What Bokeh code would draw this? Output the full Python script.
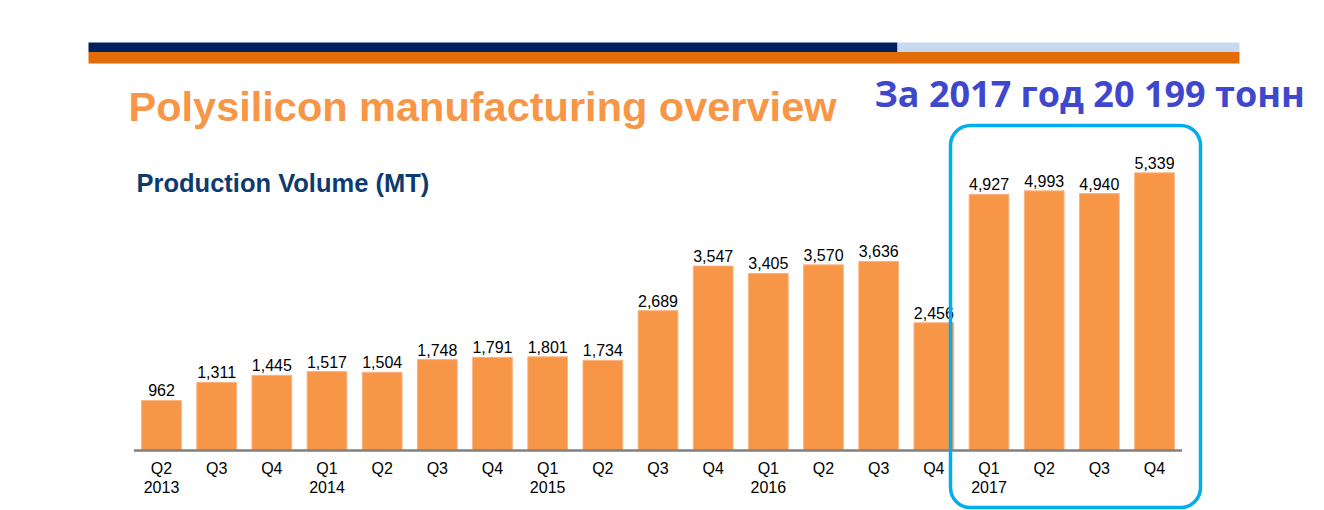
from bokeh.plotting import figure
from bokeh.models import ColumnDataSource, Range1d, FactorRange, Label, BoxAnnotation
from bokeh.core.properties import value
from bokeh.embed import file_html
from bokeh.resources import INLINE

# ---- data ----
quarters = ["Q2", "Q3", "Q4", "Q1", "Q2", "Q3", "Q4", "Q1", "Q2", "Q3",
            "Q4", "Q1", "Q2", "Q3", "Q4", "Q1", "Q2", "Q3", "Q4"]
years = ["2013", "2013", "2013", "2014", "2014", "2014", "2014", "2015", "2015", "2015",
         "2015", "2016", "2016", "2016", "2016", "2017", "2017", "2017", "2017"]
volumes = [962, 1311, 1445, 1517, 1504, 1748, 1791, 1801, 1734, 2689,
           3547, 3405, 3570, 3636, 2456, 4927, 4993, 4940, 5339]
title_text = "Polysilicon manufacturing overview"
subtitle_text = "Production Volume (MT)"
note_text = "За 2017 год 20 199 тонн"

periods = [f"{q} {y}" for q, y in zip(quarters, years)]
tick_text = []
for i, (q, y) in enumerate(zip(quarters, years)):
    first_of_year = (i == 0) or (q == "Q1")
    tick_text.append(f"{q}\n{y}" if first_of_year else q)

src = ColumnDataSource(dict(period=periods, vol=volumes, zero=[0] * len(volumes),
                            lbl=[f"{v:,}" for v in volumes], tick=tick_text))

FONT = "Liberation Sans"

p = figure(width=1324, height=510,
           x_range=FactorRange(*periods, range_padding=2.418, range_padding_units="absolute"),
           y_range=Range1d(-1154, 8654), output_backend="svg", toolbar_location=None,
           x_axis_location=None, y_axis_location=None,
           min_border_left=0, min_border_right=9, min_border_top=0, min_border_bottom=0)
p.outline_line_color = None
p.xgrid.visible = False
p.ygrid.visible = False
p.background_fill_color = "white"
p.border_fill_color = "white"

p.vbar(x="period", top="vol", width=0.72, source=src,
       fill_color="#F79646", line_color="#F9B384", line_width=1)
p.text(x="period", y="vol", text="lbl", source=src, y_offset=-4,
       text_align="center", text_baseline="bottom",
       text_font=value(FONT), text_font_size="16px", text_color="#000000")

# baseline (category axis line) across all categories
p.segment(x0=[0], x1=[len(periods)], y0=[0], y1=[0], line_color="#808080", line_width=2.5)
# category tick labels
p.text(x="period", y="zero", text="tick", source=src, y_offset=10,
       text_align="center", text_baseline="top", text_line_height=1.1,
       text_font=value(FONT), text_font_size="16px", text_color="#000000")

SU = dict(left_units="screen", right_units="screen", top_units="screen", bottom_units="screen")
# header stripes
p.add_layout(BoxAnnotation(left=88, right=897, top=468, bottom=458.5, fill_color="#002060",
                           fill_alpha=1, line_color=None, **SU))
p.add_layout(BoxAnnotation(left=897, right=1239, top=468, bottom=458.5, fill_color="#C6D9F1",
                           fill_alpha=1, line_color=None, **SU))
p.add_layout(BoxAnnotation(left=88, right=1239, top=458.5, bottom=447, fill_color="#E36C09",
                           fill_alpha=1, line_color=None, **SU))

p.add_layout(Label(x=128, y=404, x_units="screen", y_units="screen", text=title_text,
                   text_font=FONT, text_font_size="41.5px", text_font_style="bold",
                   text_color="#F79646", text_baseline="alphabetic"))
p.add_layout(Label(x=136, y=328, x_units="screen", y_units="screen", text=subtitle_text,
                   text_font=FONT, text_font_size="25.5px", text_font_style="bold",
                   text_color="#0E3B6E", text_baseline="alphabetic"))
p.add_layout(Label(x=874, y=417, x_units="screen", y_units="screen", text=note_text,
                   text_font="Open Sans", text_font_size="36px", text_font_style="bold",
                   text_color="#3F48CC", text_baseline="alphabetic"))

p.add_layout(BoxAnnotation(left=950, right=1200, top=385, bottom=3, fill_alpha=0,
                           line_color="#00AEEF", line_alpha=1, line_width=3.5,
                           border_radius=20, **SU))

open("out.html", "w").write(file_html(p, INLINE))
